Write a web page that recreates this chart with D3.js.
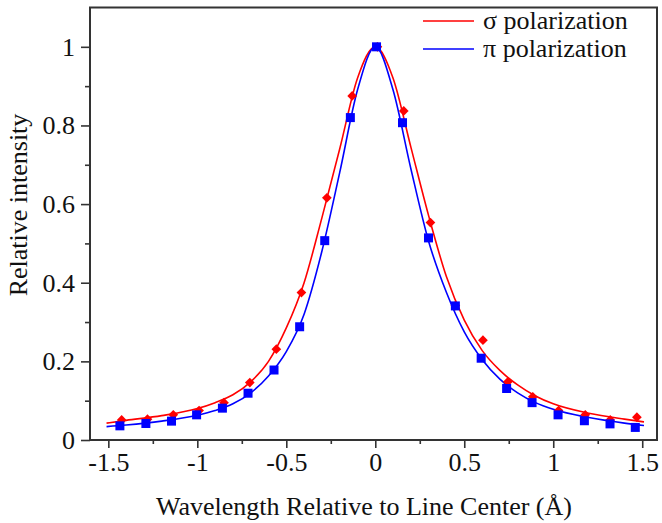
<!DOCTYPE html>
<html>
<head>
<meta charset="utf-8">
<script src="https://cdn.jsdelivr.net/npm/d3@7"></script>
</head>
<body style="margin:0">
<script>
// ---- data ----
const sigmaX = [-1.425, -1.28, -1.135, -0.99, -0.85, -0.705, -0.556, -0.415, -0.272, -0.13, 0.012, 0.16, 0.31, 0.45, 0.605, 0.745, 0.885, 1.03, 1.18, 1.32, 1.47];
const sigmaY = [0.051, 0.053, 0.064, 0.075, 0.095, 0.146, 0.231, 0.375, 0.616, 0.875, 1.0, 0.837, 0.553, 0.342, 0.254, 0.148, 0.11, 0.075, 0.064, 0.051, 0.058];
const piX = [-1.435, -1.289, -1.145, -1.004, -0.859, -0.715, -0.569, -0.425, -0.284, -0.14, 0.007, 0.153, 0.299, 0.45, 0.595, 0.738, 0.881, 1.027, 1.175, 1.319, 1.461];
const piY = [0.036, 0.042, 0.048, 0.064, 0.081, 0.119, 0.178, 0.288, 0.507, 0.82, 1.0, 0.807, 0.514, 0.341, 0.208, 0.131, 0.095, 0.064, 0.049, 0.041, 0.032];

// fitted curves
const sigmaFitX = [-1.51, -1.4, -1.2, -1.0, -0.9, -0.8, -0.7, -0.6, -0.5, -0.4, -0.3, -0.2, -0.1, 0, 0.1, 0.2, 0.3, 0.4, 0.5, 0.6, 0.7, 0.8, 0.9, 1.0, 1.2, 1.4, 1.51];
const sigmaFitY = [0.043, 0.05, 0.062, 0.08, 0.095, 0.115, 0.148, 0.2, 0.285, 0.4, 0.565, 0.74, 0.92, 1.0, 0.92, 0.745, 0.57, 0.415, 0.305, 0.228, 0.177, 0.14, 0.112, 0.092, 0.068, 0.053, 0.046];
const piFitX = [-1.51, -1.4, -1.2, -1.0, -0.9, -0.8, -0.7, -0.6, -0.5, -0.4, -0.3, -0.2, -0.1, 0, 0.1, 0.2, 0.3, 0.4, 0.5, 0.6, 0.7, 0.8, 0.9, 1.0, 1.2, 1.4, 1.51];
const piFitY = [0.034, 0.038, 0.048, 0.063, 0.075, 0.092, 0.12, 0.163, 0.225, 0.32, 0.48, 0.68, 0.89, 1.0, 0.89, 0.69, 0.505, 0.375, 0.275, 0.205, 0.155, 0.12, 0.095, 0.078, 0.057, 0.043, 0.037];

const xTicks = [-1.5, -1, -0.5, 0, 0.5, 1, 1.5];
const xMinorTicks = [-1.25, -0.75, -0.25, 0.25, 0.75, 1.25];
const yTicks = [0, 0.2, 0.4, 0.6, 0.8, 1];
const yMinorTicks = [0.1, 0.3, 0.5, 0.7, 0.9];
const seriesNames = ["\u03C3 polarization", "\u03C0 polarization"];
const seriesColors = ["#ff0000", "#0000ff"];
const xTitle = "Wavelength Relative to Line Center (\u00C5)";
const yTitle = "Relative intensity";

// ---- layout ----
const svg = d3.select("body").append("svg")
  .attr("width", 662).attr("height", 523).style("display", "block");
const mLeft = 90, mRight = 657, mTop = 7.5, mBottom = 440;
const x = d3.scaleLinear().domain([-1.603, 1.583]).range([mLeft, mRight]);
const y = d3.scaleLinear().domain([0, 1.1]).range([mBottom, mTop]);
const fontFam = '"Liberation Serif", "Times New Roman", serif';
const fs = 26;

function styleText(sel) {
  return sel.style("font-family", fontFam).attr("font-size", fs).attr("fill", "#111");
}

const fmt = d => String(d);

// axes
const xAxis = svg.append("g").attr("transform", `translate(0,${mBottom})`)
  .call(d3.axisBottom(x).tickValues(xTicks).tickFormat(fmt).tickSize(8).tickSizeOuter(0).tickPadding(5));
const xMinor = svg.append("g").attr("transform", `translate(0,${mBottom})`)
  .call(d3.axisBottom(x).tickValues(xMinorTicks).tickFormat("").tickSize(4).tickSizeOuter(0));
const yAxis = svg.append("g").attr("transform", `translate(${mLeft},0)`)
  .call(d3.axisLeft(y).tickValues(yTicks).tickFormat(fmt).tickSize(9).tickSizeOuter(0).tickPadding(6));
const yMinor = svg.append("g").attr("transform", `translate(${mLeft},0)`)
  .call(d3.axisLeft(y).tickValues(yMinorTicks).tickFormat("").tickSize(5).tickSizeOuter(0));

[xAxis, xMinor, yAxis, yMinor].forEach(g => {
  g.attr("font-family", null).attr("font-size", null);
  g.select(".domain").remove();
  g.selectAll(".tick line").attr("stroke", "#333").attr("stroke-width", 1.6);
  styleText(g.selectAll(".tick text"));
});

// frame
svg.append("rect").attr("x", mLeft).attr("y", mTop)
  .attr("width", mRight - mLeft).attr("height", mBottom - mTop)
  .attr("fill", "none").attr("stroke", "#333").attr("stroke-width", 2);

// titles
styleText(svg.append("text").attr("x", 364).attr("y", 515)
  .attr("text-anchor", "middle").text(xTitle));
styleText(svg.append("text").attr("transform", `translate(27,205) rotate(-90)`)
  .attr("text-anchor", "middle").text(yTitle));

// curves
const line = d3.line().x(d => x(d[0])).y(d => y(d[1])).curve(d3.curveMonotoneX);
const plot = svg.append("g");
plot.append("path").datum(d3.zip(sigmaFitX, sigmaFitY))
  .attr("d", line).attr("fill", "none").attr("stroke", seriesColors[0]).attr("stroke-width", 1.6);
plot.append("path").datum(d3.zip(piFitX, piFitY))
  .attr("d", line).attr("fill", "none").attr("stroke", seriesColors[1]).attr("stroke-width", 1.6);

// markers
plot.selectAll(".sig").data(d3.zip(sigmaX, sigmaY)).join("path")
  .attr("class", "sig")
  .attr("transform", d => `translate(${x(d[0])},${y(d[1])})`)
  .attr("d", d3.symbol(d3.symbolDiamond2, 60)())
  .attr("fill", seriesColors[0]);
plot.selectAll(".pi").data(d3.zip(piX, piY)).join("rect")
  .attr("class", "pi")
  .attr("x", d => x(d[0]) - 4.5).attr("y", d => y(d[1]) - 4.5)
  .attr("width", 9).attr("height", 9)
  .attr("fill", seriesColors[1]);

// legend
const legend = svg.append("g");
seriesNames.forEach((name, i) => {
  const ly = 21 + i * 28;
  legend.append("line").attr("x1", 423).attr("x2", 474).attr("y1", ly).attr("y2", ly)
    .attr("stroke", seriesColors[i]).attr("stroke-width", 1.6);
  styleText(legend.append("text").attr("x", 483).attr("y", ly + 8).text(name));
});
</script>
</body>
</html>
